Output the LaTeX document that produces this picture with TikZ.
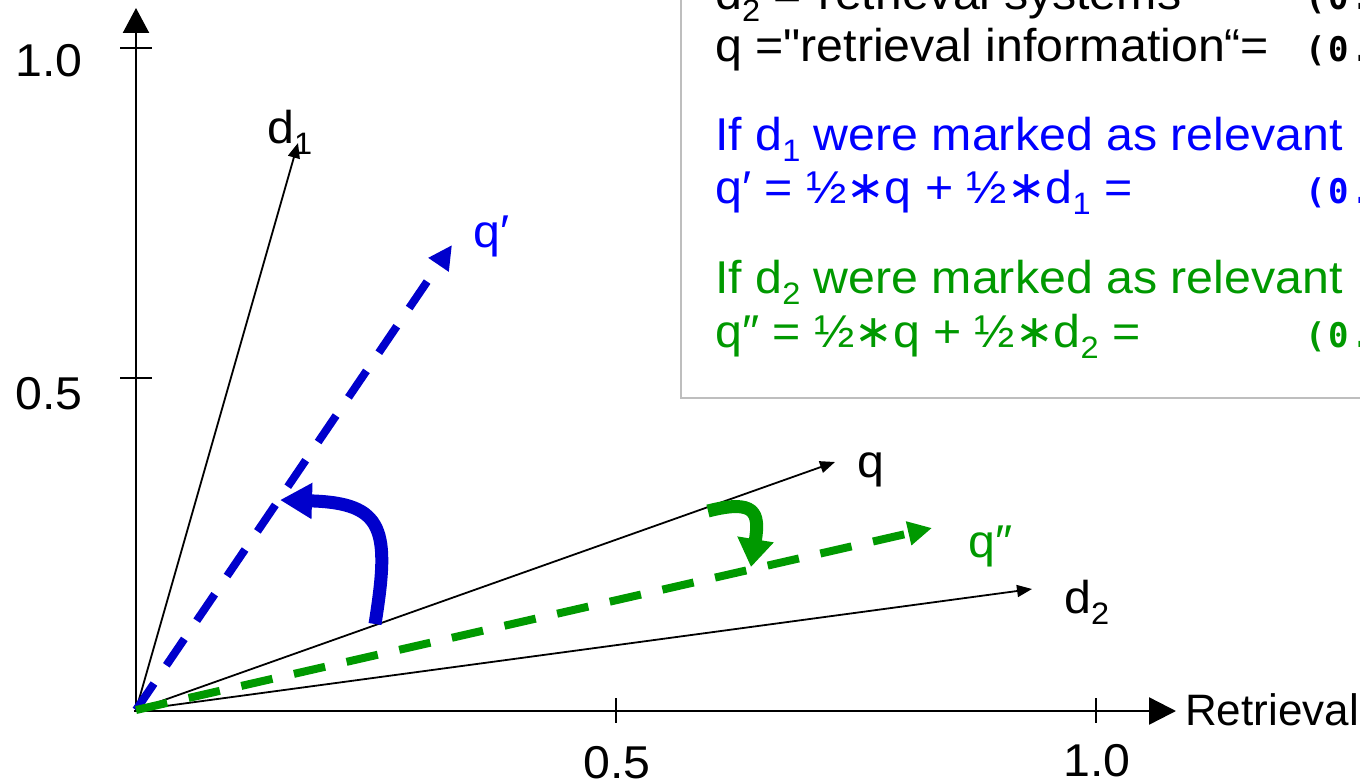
\documentclass[tikz,border=0pt]{standalone}
\usepackage{fontspec}
\setmainfont{Liberation Sans}[FakeStretch=1.05, Ligatures=TeXOff]
\newfontfamily\plainsans{Liberation Sans}[Ligatures=TeXOff]
\newfontfamily\dejavu{DejaVu Sans}
\newfontfamily\monob{DejaVu Sans Mono}[LetterSpace=8]
\usetikzlibrary{arrows.meta}
\definecolor{txtblue}{RGB}{0,0,255}
\definecolor{arrblue}{RGB}{0,0,204}
\definecolor{mygreen}{RGB}{0,153,0}
\definecolor{boxgray}{RGB}{190,190,190}
\newcommand\mysub[1]{\raisebox{-0.26em}{\fontsize{31}{31}\selectfont #1}}
\newcommand\myast{{\dejavu ∗}}
\newcommand\mono[1]{{\monob\bfseries\fontsize{34}{34}\selectfont #1}}
\begin{document}
\begin{tikzpicture}[x=1pt,y=-1pt,
  txt/.style={inner sep=0pt, anchor=base west, font=\fontsize{46}{55}\selectfont},
  ctxt/.style={inner sep=0pt, anchor=base, font=\fontsize{46}{55}\selectfont},
  axisline/.style={line width=2.4pt},
  tickline/.style={line width=2pt},
  thinvec/.style={line width=1.8pt, -{Triangle[length=15pt,width=12pt]}},
  dashvec/.style={line width=8pt, dash pattern=on 32pt off 22pt, -{Triangle[length=24pt,width=23pt]}},
  bendarrow/.style={line width=13pt}]
\useasboundingbox (0,0) rectangle (1360,781);
\clip (0,0) rectangle (1360,781);

% text box
\draw[boxgray, line width=2.5pt, fill=white] (681,-10) rectangle (1375,398);
\node[txt] (l1) at (715,10) {d\mysub{2} ="retrieval systems“};
\node[txt] (l1n) at (1305,10) {\mono{(0.}};
\node[txt] (l2) at (715,62) {q ="retrieval information“=};
\node[txt] (l2n) at (1305,62) {\mono{(0.}};
\node[txt, txtblue] (l3) at (715,150) {If d\mysub{1} were marked as relevant};
\node[txt, txtblue] (l4) at (715,203) {q′ = ½\myast q + ½\myast d\mysub{1} =};
\node[txt, txtblue] (l4n) at (1305,203) {\mono{(0.}};
\node[txt, mygreen] (l5) at (715,293) {If d\mysub{2} were marked as relevant};
\node[txt, mygreen] (l6) at (715,347) {q″ = ½\myast q + ½\myast d\mysub{2} =};
\node[txt, mygreen] (l6n) at (1305,347) {\mono{(0.}};

% coordinates
\coordinate (O) at (136,710);
\coordinate (ystart) at (136,712);
\coordinate (yend) at (136,8);
\coordinate (xstart) at (134,711);
\coordinate (xend) at (1176,711);
\coordinate (d1) at (298,143);
\coordinate (qp) at (452,245);
\coordinate (q) at (835,462);
\coordinate (qpp) at (932,528);
\coordinate (d2) at (1032,589);

% axes
\draw[axisline, -{Triangle[length=25pt,width=26pt]}] (ystart) -- (yend);
\draw[axisline, -{Triangle[length=27pt,width=27pt]}] (xstart) -- (xend);
\coordinate (ty1a) at (120,48);  \coordinate (ty1b) at (152,48);
\coordinate (ty2a) at (120,378); \coordinate (ty2b) at (152,378);
\coordinate (tx1a) at (616,698); \coordinate (tx1b) at (616,723);
\coordinate (tx2a) at (1096,698); \coordinate (tx2b) at (1096,723);
\draw[tickline] (ty1a) -- (ty1b);
\draw[tickline] (ty2a) -- (ty2b);
\draw[tickline] (tx1a) -- (tx1b);
\draw[tickline] (tx2a) -- (tx2b);

\node[txt] (y10) at (15,77) {1.0};
\node[txt] (y05) at (15,409) {0.5};
\node[ctxt] (x05) at (617,778) {0.5};
\node[ctxt] (x10) at (1097,776) {1.0};
\node[inner sep=0pt, anchor=base east, font=\plainsans\fontsize{44}{50}\selectfont] (xlab) at (1359,725) {Retrieval};

% vectors
\draw[thinvec] (O) -- (d1);
\draw[thinvec] (O) -- (q);
\draw[thinvec] (O) -- (d2);
\draw[dashvec, arrblue] (O) -- (qp);
\draw[dashvec, mygreen] (O) -- (qpp);

% bent arrows
\coordinate (bs) at (375,624);
\coordinate (be) at (280,500);
\draw[bendarrow, arrblue, -{Triangle[length=32pt,width=34pt]}] (bs) .. controls (390,530) and (385,503) .. (be);
\coordinate (gs) at (708,511);
\coordinate (ge) at (751,567);
\draw[bendarrow, mygreen, -{Triangle[length=28pt,width=35pt]}] (gs) .. controls (755,499) and (760,512) .. (ge);

% labels
\node[txt] (ld1) at (267,143) {d\mysub{1}};
\node[txt, txtblue] (lqp) at (473,247) {q′};
\node[txt] (lq) at (857,477) {q};
\node[txt, mygreen] (lqpp) at (968,557) {q″};
\node[txt] (ld2) at (1064,613) {d\mysub{2}};
\end{tikzpicture}
\end{document}
